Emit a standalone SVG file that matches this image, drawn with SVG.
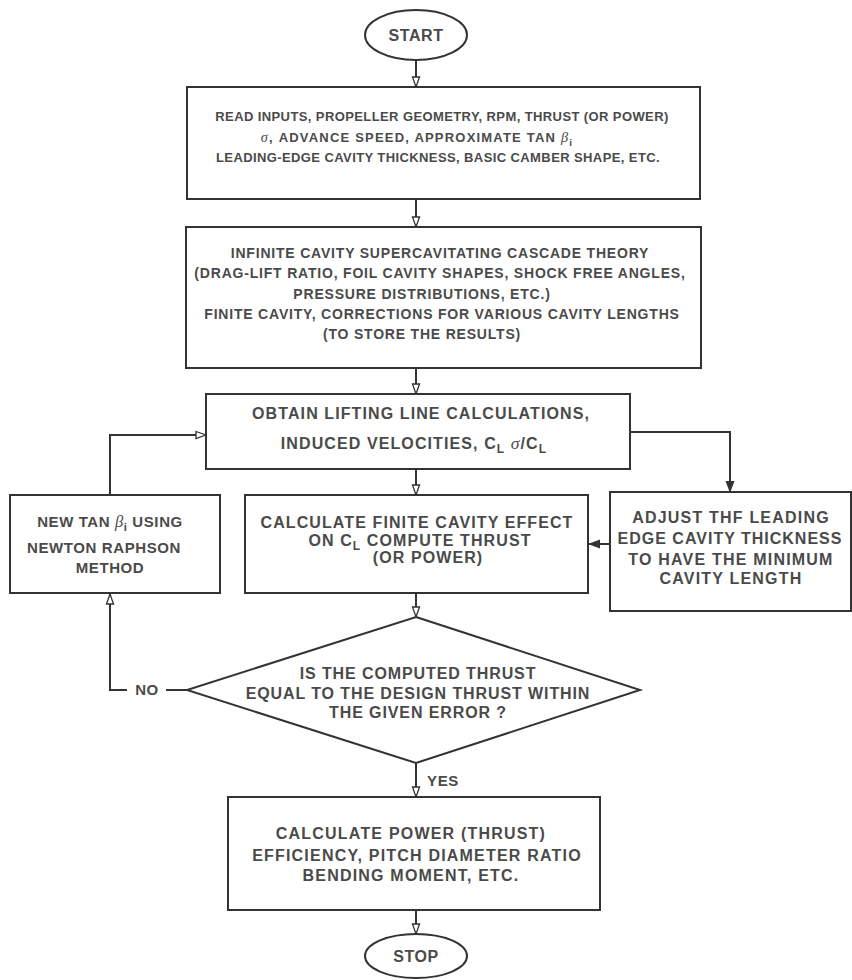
<svg xmlns="http://www.w3.org/2000/svg" width="852" height="980" viewBox="0 0 852 980">
<style>
.shape{fill:#fff;stroke:#333;stroke-width:2}
.conn{fill:none;stroke:#333;stroke-width:2}
text{font-family:"Liberation Sans",Arial,sans-serif;font-weight:bold;font-size:16px;fill:#4a4a4a;letter-spacing:1.1px;text-anchor:middle}
.t13{font-size:13px;letter-spacing:0.4px}
.t14{font-size:14px;letter-spacing:0.8px}
.t15{font-size:15px;letter-spacing:0.6px}
.gk{font-family:"Liberation Serif","DejaVu Serif",serif;font-style:italic;font-weight:normal;font-size:110%}
.sub{font-size:75%}
</style>
<defs>
<marker id="open" viewBox="0 0 12 10" refX="11" refY="5" markerWidth="12" markerHeight="10" markerUnits="userSpaceOnUse" orient="auto">
<path d="M1,1.5 L11,5 L1,8.5 Z" fill="#fff" stroke="#333" stroke-width="1.3"/>
</marker>
<marker id="solid" viewBox="0 0 12 10" refX="11" refY="5" markerWidth="12" markerHeight="10" markerUnits="userSpaceOnUse" orient="auto">
<path d="M0,0.5 L12,5 L0,9.5 Z" fill="#333"/>
</marker>
</defs>
<rect width="852" height="980" fill="#fff"/>

<g id="connectors">
<path class="conn" d="M416,60 V87" marker-end="url(#open)"/>
<path class="conn" d="M416,199 V227" marker-end="url(#open)"/>
<path class="conn" d="M416,368 V394" marker-end="url(#open)"/>
<path class="conn" d="M416,469 V495" marker-end="url(#open)"/>
<path class="conn" d="M416,593 V617" marker-end="url(#open)"/>
<path class="conn" d="M416,763 V797" marker-end="url(#open)"/>
<path class="conn" d="M416,910 V934" marker-end="url(#open)"/>
<path class="conn" d="M630,432 H730 V492" marker-end="url(#solid)"/>
<path class="conn" d="M610,544 H589" marker-end="url(#solid)"/>
<path class="conn" d="M110,495 V435 H206" marker-end="url(#open)"/>
<path class="conn" d="M187,690 H166"/>
<path class="conn" d="M127,690 H110 V594" marker-end="url(#open)"/>
<text class="t15" x="147" y="695">NO</text>
<text class="t15" x="443" y="786">YES</text>
</g>

<g id="start">
<ellipse class="shape" cx="416" cy="35" rx="51" ry="25"/>
<text x="416" y="41" style="letter-spacing:0.6px">START</text>
</g>

<g id="inputs">
<rect class="shape" x="187" y="87" width="513" height="112"/>
<text class="t13" x="442" y="121">READ INPUTS, PROPELLER GEOMETRY, RPM, THRUST (OR POWER)</text>
<text class="t13" x="417" y="142" style="letter-spacing:1.2px"><tspan class="gk">σ</tspan>, ADVANCE SPEED, APPROXIMATE TAN <tspan class="gk">β</tspan><tspan class="sub" dy="4">i</tspan></text>
<text class="t13" x="438" y="162">LEADING-EDGE CAVITY THICKNESS, BASIC CAMBER SHAPE, ETC.</text>
</g>

<g id="cascade">
<rect class="shape" x="186" y="227" width="515" height="141"/>
<text class="t14" x="440" y="258">INFINITE CAVITY SUPERCAVITATING CASCADE THEORY</text>
<text class="t14" x="440" y="278">(DRAG-LIFT RATIO, FOIL CAVITY SHAPES, SHOCK FREE ANGLES,</text>
<text class="t14" x="422" y="299">PRESSURE DISTRIBUTIONS, ETC.)</text>
<text class="t14" x="442" y="319">FINITE CAVITY, CORRECTIONS FOR VARIOUS CAVITY LENGTHS</text>
<text class="t14" x="422" y="339">(TO STORE THE RESULTS)</text>
</g>

<g id="lifting">
<rect class="shape" x="206" y="394" width="424" height="75"/>
<text x="421" y="419">OBTAIN LIFTING LINE CALCULATIONS,</text>
<text x="414" y="449">INDUCED VELOCITIES, C<tspan class="sub" dy="4">L</tspan><tspan dy="-4"> </tspan><tspan class="gk">σ</tspan>/C<tspan class="sub" dy="4">L</tspan></text>
</g>

<g id="newton">
<rect class="shape" x="10" y="495" width="210" height="98"/>
<text class="t15" x="110" y="527">NEW TAN <tspan class="gk">β</tspan><tspan class="sub" dy="4">i</tspan><tspan dy="-4"> USING</tspan></text>
<text class="t15" x="104" y="553">NEWTON RAPHSON</text>
<text class="t15" x="110" y="573">METHOD</text>
</g>

<g id="finite">
<rect class="shape" x="245" y="495" width="343" height="98"/>
<text x="417" y="528">CALCULATE FINITE CAVITY EFFECT</text>
<text x="420" y="546">ON C<tspan class="sub" dy="4">L</tspan><tspan dy="-4"> COMPUTE THRUST</tspan></text>
<text x="428" y="563">(OR POWER)</text>
</g>

<g id="adjust">
<rect class="shape" x="610" y="492" width="241" height="119"/>
<text x="731" y="523" style="letter-spacing:1.2px">ADJUST THF LEADING</text>
<text x="730" y="544" style="letter-spacing:1.0px">EDGE CAVITY THICKNESS</text>
<text x="731" y="565" style="letter-spacing:1.2px">TO HAVE THE MINIMUM</text>
<text x="731" y="584" style="letter-spacing:1.2px">CAVITY LENGTH</text>
</g>

<g id="decision">
<polygon class="shape" points="416,617 640,690 416,763 187,690"/>
<text x="418" y="679" style="letter-spacing:0.9px">IS THE COMPUTED THRUST</text>
<text x="418" y="699" style="letter-spacing:0.9px">EQUAL TO THE DESIGN THRUST WITHIN</text>
<text x="418" y="718" style="letter-spacing:0.9px">THE GIVEN ERROR ?</text>
</g>

<g id="output">
<rect class="shape" x="228" y="797" width="372" height="113"/>
<text x="411" y="839" style="letter-spacing:1.2px">CALCULATE POWER (THRUST)</text>
<text x="417" y="861" style="letter-spacing:1.2px">EFFICIENCY, PITCH DIAMETER RATIO</text>
<text x="411" y="881" style="letter-spacing:1.2px">BENDING MOMENT, ETC.</text>
</g>

<g id="stop">
<ellipse class="shape" cx="416" cy="956" rx="51" ry="22"/>
<text x="416" y="962" style="letter-spacing:0.6px">STOP</text>
</g>
</svg>
